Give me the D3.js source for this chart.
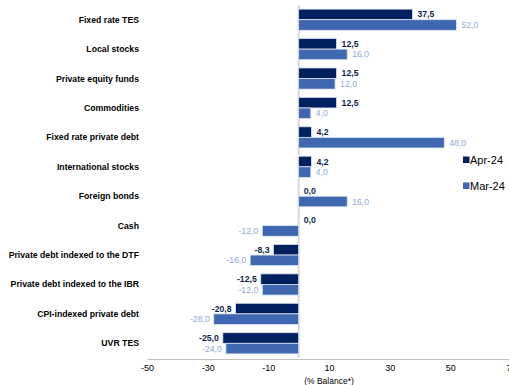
<!DOCTYPE html>
<html>
<head>
<meta charset="utf-8">
<script src="https://cdn.jsdelivr.net/npm/d3@7"></script>
<style>
  body { margin: 0; background: #fff; }
  svg { display: block; font-family: Arial, "Liberation Sans", sans-serif; }
</style>
</head>
<body>
<svg></svg>
<script>
var categories = [
	"Fixed rate TES", "Local stocks", "Private equity funds", "Commodities",
	"Fixed rate private debt", "International stocks", "Foreign bonds", "Cash",
	"Private debt indexed to the DTF", "Private debt indexed to the IBR",
	"CPI-indexed private debt", "UVR TES"
];
var apr24 = [37.5, 12.5, 12.5, 12.5, 4.2, 4.2, 0.0, 0.0, -8.3, -12.5, -20.8, -25.0];
var mar24 = [52.0, 16.0, 12.0, 4.0, 48.0, 4.0, 16.0, -12.0, -16.0, -12.0, -28.0, -24.0];
var seriesNames = ["Apr-24", "Mar-24"];
var tickValues = [-50, -30, -10, 10, 30, 50, 70];

var WIDTH = 509,
	HEIGHT = 385,
	PLOT_LEFT = 147,   // x of -50
	PLOT_RIGHT = 511,  // x of 70 (runs off the edge, like the original)
	PLOT_TOP = 5,
	PLOT_BOTTOM = 358,
	LABEL_X = 139;

var COLORS = ["#002060", "#4068b0"],
	LABEL_COLORS = ["#0d1f4f", "#8eaadc"];

var svg = d3.select("svg")
	.attr("width", WIDTH)
	.attr("height", HEIGHT);

var x = d3.scaleLinear().domain([-50, 70]).range([PLOT_LEFT, PLOT_RIGHT]);

var y = d3.scaleBand()
	.domain(categories)
	.range([PLOT_TOP, PLOT_BOTTOM])
	.paddingInner(0.28)
	.paddingOuter(0.14);

var ySub = d3.scaleBand()
	.domain(seriesNames)
	.range([0, y.bandwidth()]);

var rows = categories.map(function(c, i) {
	return {cat: c, values: [apr24[i], mar24[i]]};
});

// plain hyphen for minus, comma as decimal mark
var fmt = function(v) { return d3.format(".1f")(v).replace("\u2212", "-").replace(".", ","); };
var fmtTick = function(v) { return d3.format("d")(v).replace("\u2212", "-"); };

// zero line
svg.append("line")
	.attr("x1", x(0)).attr("x2", x(0))
	.attr("y1", PLOT_TOP).attr("y2", PLOT_BOTTOM)
	.attr("stroke", "#d9d9d9")
	.attr("stroke-width", 2);

// axis
var axis = svg.append("g")
	.attr("transform", "translate(0," + (PLOT_BOTTOM + 1) + ")")
	.call(d3.axisBottom(x).tickValues(tickValues).tickSize(0).tickPadding(6)
		.tickFormat(fmtTick));
axis.select(".domain").attr("stroke", "#bfbfbf").attr("stroke-width", 1.2);
axis.selectAll("text")
	.attr("font-size", 9)
	.attr("fill", "#000")
	.attr("font-family", "Arial, 'Liberation Sans', sans-serif");

svg.append("text")
	.attr("x", x(10))
	.attr("y", 384)
	.attr("text-anchor", "middle")
	.attr("font-size", 8.5)
	.text("(% Balance*)");

// category rows
var row = svg.selectAll("g.row")
	.data(rows)
  .enter().append("g")
	.attr("class", "row")
	.attr("transform", function(d) { return "translate(0," + y(d.cat) + ")"; });

row.append("text")
	.attr("x", LABEL_X)
	.attr("y", y.bandwidth() / 2)
	.attr("dy", "0.35em")
	.attr("text-anchor", "end")
	.attr("font-size", 8.7)
	.attr("font-weight", "bold")
	.text(function(d) { return d.cat; });

var bar = row.selectAll("g.bar")
	.data(function(d) {
		return d.values.map(function(v, j) { return {v: v, s: j}; });
	})
  .enter().append("g")
	.attr("class", "bar");

bar.append("rect")
	.attr("x", function(d) { return x(Math.min(0, d.v)); })
	.attr("y", function(d) { return ySub(seriesNames[d.s]); })
	.attr("width", function(d) { return Math.abs(x(d.v) - x(0)); })
	.attr("height", ySub.bandwidth())
	.attr("fill", function(d) { return COLORS[d.s]; })
	.attr("stroke", "#dbe3f1")
	.attr("stroke-width", 0.8);

bar.append("text")
	.attr("x", function(d) { return d.v < 0 ? x(d.v) - 4 : x(d.v) + 5; })
	.attr("y", function(d) { return ySub(seriesNames[d.s]) + ySub.bandwidth() / 2; })
	.attr("dy", "0.35em")
	.attr("text-anchor", function(d) { return d.v < 0 ? "end" : "start"; })
	.attr("font-size", 8.7)
	.attr("font-weight", function(d) { return d.s === 0 ? "bold" : "normal"; })
	.attr("fill", function(d) { return LABEL_COLORS[d.s]; })
	.text(function(d) { return fmt(d.v); });

// legend
var legend = svg.selectAll("g.legend")
	.data(seriesNames)
  .enter().append("g")
	.attr("class", "legend")
	.attr("transform", function(d, i) { return "translate(463," + (160 + i * 26) + ")"; });

legend.append("rect")
	.attr("x", 0).attr("y", -3.5)
	.attr("width", 6.5).attr("height", 6.5)
	.attr("fill", function(d, i) { return COLORS[i]; });

legend.append("text")
	.attr("x", 7)
	.attr("y", 0)
	.attr("dy", "0.35em")
	.attr("font-size", 11)
	.text(function(d) { return d; });
</script>
</body>
</html>
